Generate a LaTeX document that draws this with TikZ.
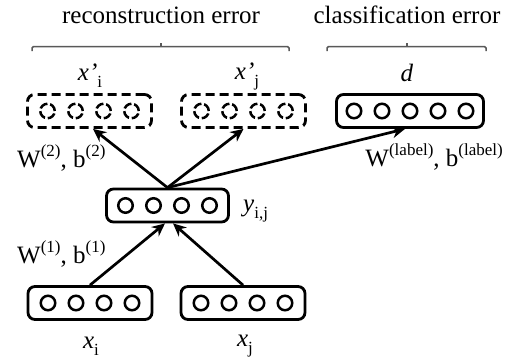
\documentclass[tikz,border=0pt]{standalone}
\usepackage{fontspec}
\setmainfont{Liberation Serif}
\usetikzlibrary{arrows.meta}
\newcommand\mysup[1]{\raisebox{0.42em}{\fontsize{17}{17}\selectfont #1}}
\newcommand\mysub[1]{\raisebox{-0.28em}{\fontsize{17}{17}\selectfont #1}}
\begin{document}
\begin{tikzpicture}[x=1pt,y=-1pt,
  every node/.style={font=\fontsize{25}{30}\selectfont, inner sep=0pt},
  layer/.style={draw, line width=2.8pt, rounded corners=7pt, minimum height=33pt, minimum width=124pt},
  dlayer/.style={layer, dash pattern=on 9pt off 5pt},
  unit/.style={draw, circle, line width=2.5pt, minimum size=14.5pt},
  dunit/.style={unit, dash pattern=on 8.6pt off 2.8pt},
  arr/.style={-{Stealth[length=13pt,width=12pt]}, line width=2.7pt},
  bracestyle/.style={draw=black!65, line width=1.5pt, rounded corners=1.5pt}
]
\useasboundingbox (0,0) rectangle (508,360);
% layers
\node[dlayer] (xpi) at (89.5,111) {};
\node[dlayer] (xpj) at (243.5,111) {};
\node[layer, minimum width=147pt] (d) at (410,111) {};
\node[layer, minimum width=122pt] (y) at (167.5,205.5) {};
\node[layer] (xi) at (90,303) {};
\node[layer] (xj) at (243,303) {};
% units
\foreach \b in {xpi,xpj}
  \foreach \k in {1,...,4}
    \node[dunit] (\b c\k) at ([xshift={(\k-2.5)*28pt}]\b.center) {};
\foreach \b in {y,xi,xj}
  \foreach \k in {1,...,4}
    \node[unit] (\b c\k) at ([xshift={(\k-2.5)*28pt}]\b.center) {};
\foreach \k in {1,...,5}
  \node[unit] (dc\k) at ([xshift={(\k-3)*28pt}]d.center) {};
% top labels and braces
\node (lrec) at (161,15) {reconstruction error};
\node (lcls) at (407,15) {classification error};
\draw[bracestyle] (32,51) -- (32,46.5) -- (289,46.5) -- (289,51);
\draw[bracestyle] (161,46.5) -- (161,42.5);
\draw[bracestyle] (327,51) -- (327,46.5) -- (486,46.5) -- (486,51);
\draw[bracestyle] (407,46.5) -- (407,42.5);
% layer labels
\node (lxpi) at (90,76) {\textit{x’}\mysub{i}};
\node (lxpj) at (247,76) {\textit{x’}\mysub{j}};
\node (ld) at (407,73) {\textit{d}};
\node[anchor=west] (ly) at (243,211) {\textit{y}\mysub{i,j}};
\node (lxi) at (91,346) {\textit{x}\mysub{i}};
\node (lxj) at (245,346) {\textit{x}\mysub{j}};
% weight labels
\node[anchor=west] (w2) at (17,158) {W\mysup{(2)}, b\mysup{(2)}};
\node[anchor=east] (wl) at (503,157) {W\mysup{(label)}, b\mysup{(label)}};
\node[anchor=west] (w1) at (17,254) {W\mysup{(1)}, b\mysup{(1)}};
% connectors
\draw[arr] (y.north) -- ([xshift=3.5pt]xpi.south);
\draw[arr] (y.north) -- (xpj.south);
\draw[arr] (y.north) -- ([xshift=-5pt]d.south);
\draw[arr] (xi.north) -- ([xshift=-2.5pt]y.south);
\draw[arr] (xj.north) -- ([xshift=5.5pt]y.south);
\end{tikzpicture}
\end{document}
